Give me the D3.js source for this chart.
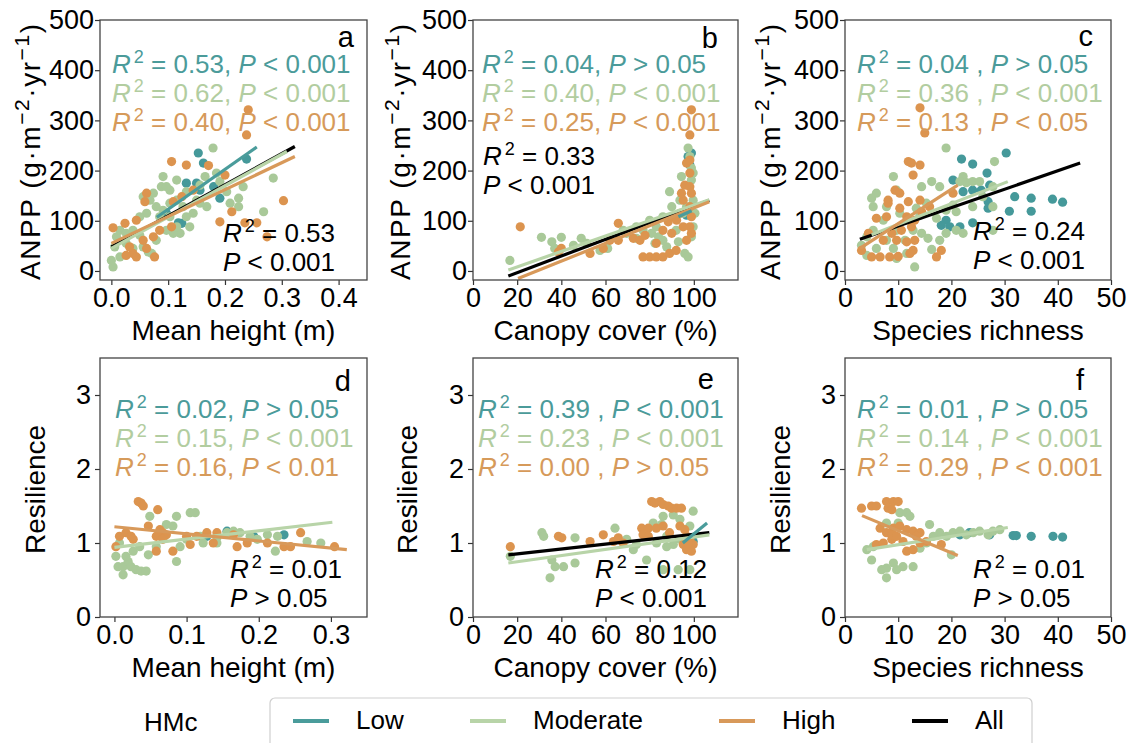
<!DOCTYPE html>
<html>
<head>
<meta charset="utf-8">
<script src="https://cdn.jsdelivr.net/npm/d3@7"></script>
<style>
  body { margin: 0; background: #fff; }
  svg text { font-family: "Liberation Sans", Arial, sans-serif; white-space: pre; }
</style>
</head>
<body>
<svg id="chart" width="1129" height="743"></svg>
<script>
// ---------- tick labels ----------
const anppTicks = [0, 100, 200, 300, 400, 500];
const resilienceTicks = [0, 1, 2, 3];
const heightTicksTop = [0, 0.1, 0.2, 0.3, 0.4];
const heightTicksBottom = [0, 0.1, 0.2, 0.3];
const coverTicks = [0, 20, 40, 60, 80, 100];
const richnessTicks = [0, 10, 20, 30, 40, 50];

// ---------- HMc groups ----------
const groups = ["Low", "Moderate", "High", "All"];

// ---------- (a) mean height vs ANPP ----------
const heightAnppLow = [[0.153,235],[0.162,215],[0.132,175],[0.150,175],[0.191,145],[0.238,223],[0.124,95],[0.118,96],[0.156,161],[0.180,168],[0.097,115]];
const heightAnppModerate = [[0.003,8],[0.0,21],[0.006,48],[0.009,68],[0.015,81],[0.026,75],[0.038,81],[0.050,71],[0.056,48],[0.065,38],[0.071,35],[0.079,61],[0.085,108],[0.091,121],[0.103,135],[0.091,188],[0.088,168],[0.103,161],[0.115,141],[0.126,128],[0.132,108],[0.121,75],[0.109,75],[0.097,81],[0.150,141],[0.156,171],[0.165,188],[0.179,245],[0.185,195],[0.191,178],[0.203,158],[0.209,135],[0.224,145],[0.224,128],[0.232,168],[0.268,118],[0.285,185],[0.074,155],[0.068,141],[0.056,148],[0.062,115],[0.050,108],[0.079,128],[0.097,168],[0.132,158],[0.144,115],[0.168,128],[0.026,55],[0.038,45],[0.015,28],[0.103,108],[0.115,88],[0.138,88],[0.156,135],[0.115,181]];
const heightAnppHigh = [[0.241,321],[0.238,271],[0.106,218],[0.132,211],[0.171,210],[0.200,191],[0.303,140],[0.256,96],[0.235,96],[0.274,68],[0.212,118],[0.191,98],[0.062,155],[0.059,138],[0.044,101],[0.024,95],[0.003,86],[0.109,138],[0.124,148],[0.144,161],[0.085,81],[0.074,68],[0.056,61],[0.062,45],[0.038,35],[0.026,31],[0.044,28],[0.076,28],[0.032,48],[0.106,88]];
const heightAnppFits = { Low: [[0.080,107],[0.256,247]], Moderate: [[0.0,45],[0.309,238]], High: [[0.0,55],[0.323,228]], All: [[0.0,48],[0.323,248]] };
const heightAnppStats = { Low: ["0.53","<","0.001"], Moderate: ["0.62","<","0.001"], High: ["0.40","<","0.001"], All: ["0.53","<","0.001"] };

// ---------- (b) canopy cover vs ANPP ----------
const coverAnppLow = [[98.9,235],[97.4,228],[96.7,111],[98.2,211]];
const coverAnppModerate = [[16.7,21],[31,67],[35.7,58],[40,67],[45.5,51],[37,45],[57.5,41],[61,45],[69.6,75],[74,65],[77,81],[80.9,75],[82.4,55],[84,68],[86,61],[87.7,48],[89,158],[92,81],[93,58],[94.4,188],[95,115],[95.9,35],[97.4,28],[97.4,245],[98.2,228],[98.9,205],[98.9,181],[99.7,195],[99.7,141],[100.5,115],[99.7,88],[98.9,68],[96.7,128],[93.7,141],[90,128],[86,108],[83,88],[80,101],[74,88],[68,81],[49,65],[51.5,55]];
const coverAnppHigh = [[21.4,88],[38.7,38],[53,35],[59,45],[65.8,95],[65.8,61],[72.6,65],[75.6,61],[77,28],[80,28],[83,28],[86,28],[89,35],[92,41],[77.9,71],[83,55],[86,81],[90,75],[90.7,108],[93.7,115],[95.2,141],[94.4,155],[95.9,171],[96.7,215],[98.2,221],[98.2,195],[98.2,168],[98.9,155],[98.2,128],[98.9,108],[98.2,88],[98.9,75],[96.7,61],[98.9,321],[98.2,271],[95.2,88],[92.2,101],[88.4,98],[40,45],[62,61]];
const coverAnppFits = { Low: [[93,108],[99,120]], Moderate: [[16,2],[107,142]], High: [[20.4,-15],[107,138]], All: [[16,-10],[107,141]] };
const coverAnppStats = { Low: ["0.04",">","0.05"], Moderate: ["0.40","<","0.001"], High: ["0.25","<","0.001"], All: ["0.33","<","0.001"] };

// ---------- (c) species richness vs ANPP ----------
const richnessAnppLow = [[30.3,235],[21.9,223],[24,213],[26.7,195],[20.3,181],[27.2,171],[25.6,161],[24,161],[22.2,158],[26.9,138],[26.9,125],[31.9,148],[35,145],[39,143],[40.9,137],[35,119],[30.9,119],[24,96],[19,101],[19.7,88],[21.6,88],[18.1,91]];
const richnessAnppModerate = [[19,245],[22.2,188],[21.6,178],[22.8,176],[24,178],[25.3,178],[28.1,218],[16.3,178],[17.8,168],[14.4,168],[20.3,131],[19,121],[20.9,118],[24,128],[27.8,128],[27.8,168],[25.9,148],[20.9,81],[22.2,75],[27.8,81],[15.3,135],[13.4,125],[11.9,105],[12.8,81],[14.4,75],[15.6,65],[17.8,61],[16.3,43],[13.1,8],[9.1,188],[9.7,161],[5.9,155],[5,145],[5.3,128],[7.8,128],[10.3,115],[7.2,101],[5.3,81],[4.1,68],[3.1,51],[4.1,31],[5.9,45],[7.8,61],[9.1,45],[9.7,25],[11.6,35],[11.3,61],[9.7,81],[14.1,111],[17.2,105],[19,75]];
const richnessAnppHigh = [[14.1,325],[15,275],[11.9,218],[12.5,215],[14.1,211],[12.8,191],[8.1,141],[8.1,135],[9.4,161],[10.3,155],[11.9,138],[14.1,141],[15.9,128],[10.3,125],[5.9,105],[7.8,108],[11.6,108],[13.1,101],[12.5,88],[10.6,81],[8.8,75],[7.2,61],[9.7,61],[11.6,58],[13.1,61],[12.8,41],[12.2,35],[3.1,41],[5,28],[6.6,28],[8.4,28],[10,29],[17.2,28],[18.1,41],[4.4,75],[14.4,118],[20.3,155]];
const richnessAnppFits = { Moderate: [[5,72],[30.6,178]], High: [[2.8,45],[21.2,171]], All: [[2.8,63],[44.2,215]] };
const richnessAnppStats = { Low: ["0.04",">","0.05"], Moderate: ["0.36","<","0.001"], High: ["0.13","<","0.05"], All: ["0.24","<","0.001"] };

// ---------- (d) mean height vs resilience ----------
const heightResLow = [[0.193,1.09],[0.235,1.11],[0.156,1.16],[0.128,1.09],[0.165,1.14]];
const heightResModerate = [[0.012,0.57],[0.002,0.82],[0.005,0.68],[0.012,0.68],[0.019,0.75],[0.023,0.68],[0.030,0.64],[0.037,0.62],[0.044,0.62],[0.016,0.82],[0.026,0.89],[0.007,1.0],[0.035,0.95],[0.049,1.36],[0.086,1.36],[0.105,1.41],[0.112,1.41],[0.072,1.25],[0.081,1.23],[0.047,0.84],[0.086,0.75],[0.100,1.05],[0.119,1.09],[0.142,1.07],[0.156,1.14],[0.165,1.16],[0.174,1.14],[0.188,1.09],[0.212,1.11],[0.226,1.09],[0.223,0.89],[0.267,1.02],[0.286,1.0],[0.123,1.0],[0.091,0.95],[0.058,0.95],[0.142,1.0],[0.198,1.05]];
const heightResHigh = [[0.033,1.56],[0.037,1.54],[0.040,1.5],[0.060,1.45],[0.047,1.23],[0.063,1.18],[0.067,1.14],[0.072,1.11],[0.058,1.09],[0.067,1.05],[0.007,1.09],[0.016,1.14],[0.023,1.09],[0.026,1.05],[0.002,0.95],[0.058,0.89],[0.081,0.89],[0.105,0.98],[0.114,1.09],[0.128,1.14],[0.142,1.14],[0.165,1.11],[0.170,0.95],[0.184,1.0],[0.212,1.0],[0.235,0.95],[0.244,0.95],[0.258,1.14],[0.305,0.95],[0.137,1.0],[0.100,1.09]];
const heightResFits = { Moderate: [[0.0,0.94],[0.302,1.28]], High: [[0.0,1.22],[0.322,0.91]] };
const heightResStats = { Low: ["0.02",">","0.05"], Moderate: ["0.15","<","0.001"], High: ["0.16","<","0.01"], All: ["0.01",">","0.05"] };

// ---------- (e) canopy cover vs resilience ----------
const coverResLow = [[98.2,0.95],[97.4,1.07],[99.7,1.02]];
const coverResModerate = [[16.9,0.82],[31.2,1.14],[32,1.09],[35.7,0.77],[34.9,0.53],[37.2,0.68],[41,0.68],[46.2,0.73],[46.2,1.07],[64.3,1.2],[69.6,1.05],[72.6,0.91],[74,0.98],[78.6,0.77],[81.6,1.27],[85.4,1.25],[86.1,1.36],[90.7,1.38],[93.7,1.32],[87.7,1.09],[90.7,0.98],[86.1,0.64],[92.9,0.64],[99.7,1.43],[98.2,1.23],[98.2,0.64],[93.7,1.05],[83.1,1.0],[87.7,0.95]];
const coverResHigh = [[16.9,0.95],[38.7,1.09],[40.2,1.07],[53,1.02],[59,1.11],[63.6,1.02],[65.8,1.07],[68,1.0],[76.4,1.2],[77,1.11],[79.4,1.2],[80.9,1.56],[82.4,1.54],[84.6,1.56],[86.1,1.52],[88.4,1.5],[89.9,1.47],[92.2,1.47],[94.4,1.47],[83,1.2],[86.1,1.23],[89,1.14],[93.7,1.23],[95.9,1.18],[96.7,1.09],[98.2,1.05],[95.2,0.98],[96.7,0.91],[98.9,0.89],[99.7,0.98],[97.4,1.0],[79.4,1.09]];
const coverResFits = { Low: [[95,1.0],[106,1.27]], Moderate: [[16,0.73],[107,1.11]], All: [[16,0.84],[107,1.14]] };
const coverResStats = { Low: ["0.39","<","0.001"], Moderate: ["0.23","<","0.001"], High: ["0.00",">","0.05"], All: ["0.12","<","0.001"] };

// ---------- (f) species richness vs resilience ----------
const richnessResLow = [[31.6,1.1],[32.2,1.1],[35,1.09],[39.1,1.09],[40.9,1.08],[23.4,1.14],[27.2,1.11],[21.6,1.11]];
const richnessResModerate = [[7.8,0.53],[5,0.77],[4.1,0.91],[5.3,0.95],[6.9,0.64],[7.8,0.66],[9.1,0.73],[9.7,0.64],[10.9,0.68],[12.8,0.68],[10.3,1.41],[11.6,1.41],[12.2,1.36],[7.8,1.27],[10,1.27],[15.9,1.25],[17.8,1.14],[19.1,1.09],[20,0.84],[20.3,1.14],[21.6,1.16],[22.8,1.11],[24.1,1.14],[25.3,1.16],[26.9,1.11],[27.8,1.16],[29.1,1.18],[15.3,1.0],[16.6,1.09],[14.1,0.93]];
const richnessResHigh = [[3.1,1.47],[5,1.5],[5.9,1.5],[7.8,1.56],[9.1,1.56],[10,1.56],[8.1,1.47],[8.8,1.45],[6.6,1.2],[7.8,1.14],[9.1,1.2],[10.3,1.23],[11.6,1.18],[12.8,1.16],[5.9,0.98],[7.2,1.0],[8.8,1.05],[10.9,1.02],[11.6,0.89],[12.8,0.91],[14.1,1.0],[15.3,1.02],[18.1,0.98],[14.1,1.14],[13.4,1.09],[8.8,1.11],[9.7,1.09]];
const richnessResFits = { Moderate: [[4.1,0.91],[30.6,1.21]], High: [[3.2,1.37],[21.2,0.83]] };
const richnessResStats = { Low: ["0.01",">","0.05"], Moderate: ["0.14","<","0.001"], High: ["0.29","<","0.001"], All: ["0.01",">","0.05"] };

// ---------- styling ----------
const textColor = { Low: "#4b9b9a", Moderate: "#b2cda0", High: "#d69a5a", All: "#000" };
const dotColor = { Low: "#45999a", Moderate: "#a9c999", High: "#dc944f" };
const lineColor = { Low: "#4a9c9b", Moderate: "#b8d4a8", High: "#d8995a", All: "#000" };

const svg = d3.select("#chart");

const topY = [20, 280], botY = [358, 617];
const colX = [[100, 367], [473, 738], [845, 1111]];

const panels = [
  { letter: "a", col: 0, rowY: topY, xDomain: [-0.02, 0.45], yDomain: [-18, 500], xTicks: heightTicksTop, yTicks: anppTicks, xFmt: d3.format(".1f"),
    pts: { Low: heightAnppLow, Moderate: heightAnppModerate, High: heightAnppHigh }, fits: heightAnppFits, stats: heightAnppStats, sep: ", ",
    xLabel: "Mean height (m)", yLabel: "anpp", statX: 112, statY: 73, allX: 223, allY: 242, letterX: 354, letterY: 47 },
  { letter: "b", col: 1, rowY: topY, xDomain: [0, 120], yDomain: [-18, 500], xTicks: coverTicks, yTicks: anppTicks, xFmt: d3.format("d"),
    pts: { Low: coverAnppLow, Moderate: coverAnppModerate, High: coverAnppHigh }, fits: coverAnppFits, stats: coverAnppStats, sep: ", ",
    xLabel: "Canopy cover (%)", yLabel: "anpp", statX: 482, statY: 73, allX: 483, allY: 165, letterX: 718, letterY: 48 },
  { letter: "c", col: 2, rowY: topY, xDomain: [0, 50], yDomain: [-18, 500], xTicks: richnessTicks, yTicks: anppTicks, xFmt: d3.format("d"),
    pts: { Low: richnessAnppLow, Moderate: richnessAnppModerate, High: richnessAnppHigh }, fits: richnessAnppFits, stats: richnessAnppStats, sep: " , ",
    xLabel: "Species richness", yLabel: "anpp", statX: 857, statY: 73, allX: 973, allY: 240, letterX: 1093, letterY: 46 },
  { letter: "d", col: 0, rowY: botY, xDomain: [-0.02, 0.35], yDomain: [0, 3.5], xTicks: heightTicksBottom, yTicks: resilienceTicks, xFmt: d3.format(".1f"),
    pts: { Low: heightResLow, Moderate: heightResModerate, High: heightResHigh }, fits: heightResFits, stats: heightResStats, sep: ", ",
    xLabel: "Mean height (m)", yLabel: "Resilience", statX: 115, statY: 418, allX: 230, allY: 578, letterX: 351, letterY: 391 },
  { letter: "e", col: 1, rowY: botY, xDomain: [0, 120], yDomain: [0, 3.5], xTicks: coverTicks, yTicks: resilienceTicks, xFmt: d3.format("d"),
    pts: { Low: coverResLow, Moderate: coverResModerate, High: coverResHigh }, fits: coverResFits, stats: coverResStats, sep: " , ",
    xLabel: "Canopy cover (%)", yLabel: "Resilience", statX: 478, statY: 418, allX: 595, allY: 578, letterX: 714, letterY: 389 },
  { letter: "f", col: 2, rowY: botY, xDomain: [0, 50], yDomain: [0, 3.5], xTicks: richnessTicks, yTicks: resilienceTicks, xFmt: d3.format("d"),
    pts: { Low: richnessResLow, Moderate: richnessResModerate, High: richnessResHigh }, fits: richnessResFits, stats: richnessResStats, sep: " , ",
    xLabel: "Species richness", yLabel: "Resilience", statX: 857, statY: 418, allX: 973, allY: 578, letterX: 1084, letterY: 390 }
];

const yLabelX = { 0: { anpp: 40, Resilience: 45 }, 1: { anpp: 410, Resilience: 417 }, 2: { anpp: 780, Resilience: 790 } };

// R² / P annotation: italic R, raised 2, value, italic P, operator and threshold
function statText(g, x, y, color, s, sep) {
  const t = g.append("text").attr("x", x).attr("y", y).attr("fill", color).attr("font-size", 26);
  t.append("tspan").attr("font-style", "italic").text("R");
  t.append("tspan").attr("dx", 3).attr("dy", -10).attr("font-size", 18).text("2");
  t.append("tspan").attr("dy", 10).text(" = " + s[0] + sep);
  t.append("tspan").attr("font-style", "italic").text("P");
  t.append("tspan").text(" " + s[1] + " " + s[2]);
}

panels.forEach(p => {
  const [x0, x1] = colX[p.col];
  const [y0, y1] = p.rowY;
  const x = d3.scaleLinear().domain(p.xDomain).range([x0, x1]);
  const y = d3.scaleLinear().domain(p.yDomain).range([y1, y0]);
  const g = svg.append("g");

  // clip so marks stay inside the frame
  const clipId = "clip-" + p.letter;
  g.append("clipPath").attr("id", clipId).append("rect")
    .attr("x", x0).attr("y", y0).attr("width", x1 - x0).attr("height", y1 - y0);
  const plot = g.append("g").attr("clip-path", `url(#${clipId})`);

  // scatter: Low underneath, then Moderate, then High
  ["Low", "Moderate", "High"].forEach(k => {
    plot.append("g").selectAll("circle").data(p.pts[k]).join("circle")
      .attr("cx", d => x(d[0])).attr("cy", d => y(d[1])).attr("r", 4.6)
      .attr("fill", dotColor[k]);
  });

  // fitted lines: overall fit first, group fits on top
  const line = d3.line().x(d => x(d[0])).y(d => y(d[1]));
  ["All", "Moderate", "High", "Low"].forEach(k => {
    if (!p.fits[k]) return;
    plot.append("path").attr("d", line(p.fits[k])).attr("fill", "none")
      .attr("stroke", lineColor[k]).attr("stroke-width", 3.2);
  });

  // axes
  const isTop = p.rowY === topY;
  const xa = g.append("g").attr("transform", `translate(0,${y1})`)
    .call(d3.axisBottom(x).tickValues(p.xTicks).tickFormat(p.xFmt).tickSize(5).tickPadding(3));
  const ya = g.append("g").attr("transform", `translate(${x0},0)`)
    .call(d3.axisLeft(y).tickValues(p.yTicks).tickFormat(d3.format("d")).tickSize(5).tickPadding(isTop ? 1 : 4));
  [xa, ya].forEach(a => {
    a.select(".domain").remove();
    a.selectAll(".tick line").attr("stroke", "#333").attr("stroke-width", 1.2);
    a.selectAll(".tick text").attr("font-size", 27).attr("fill", "#000")
      .attr("font-family", '"Liberation Sans", Arial, sans-serif');
  });

  // frame
  g.append("rect").attr("x", x0).attr("y", y0).attr("width", x1 - x0).attr("height", y1 - y0)
    .attr("fill", "none").attr("stroke", "#444").attr("stroke-width", 1.3);

  // axis titles
  g.append("text").attr("x", (x0 + x1) / 2).attr("y", y1 + 60).attr("text-anchor", "middle")
    .attr("font-size", 28).text(p.xLabel);
  const ly = (y0 + y1) / 2 + 2;
  const lx = yLabelX[p.col][p.yLabel];
  const yt = g.append("text").attr("text-anchor", "middle").attr("font-size", 28)
    .attr("transform", `translate(${lx},${ly}) rotate(-90)`);
  if (p.yLabel === "anpp") {
    yt.attr("textLength", 256).attr("lengthAdjust", "spacing");
    yt.append("tspan").text("ANPP (g·m");
    yt.append("tspan").attr("dy", -11).attr("font-size", 21).text("−2");
    yt.append("tspan").attr("dy", 11).text("·yr");
    yt.append("tspan").attr("dy", -11).attr("font-size", 21).text("−1");
    yt.append("tspan").attr("dy", 11).text(")");
  } else {
    yt.text(p.yLabel);
  }

  // panel letter
  g.append("text").attr("x", p.letterX).attr("y", p.letterY).attr("text-anchor", "end")
    .attr("font-size", 29).text(p.letter);

  // group statistics
  ["Low", "Moderate", "High"].forEach((k, i) => {
    statText(g, p.statX, p.statY + i * 29, textColor[k], p.stats[k], p.sep);
  });

  // overall statistics on two lines
  const all = p.stats.All;
  const ta = g.append("text").attr("x", p.allX).attr("y", p.allY).attr("font-size", 26).attr("fill", "#000");
  ta.append("tspan").attr("font-style", "italic").text("R");
  ta.append("tspan").attr("dx", 3).attr("dy", -10).attr("font-size", 18).text("2");
  ta.append("tspan").attr("dy", 10).text(" = " + all[0]);
  const tp = g.append("text").attr("x", p.allX).attr("y", p.allY + 29).attr("font-size", 26).attr("fill", "#000");
  tp.append("tspan").attr("font-style", "italic").text("P");
  tp.append("tspan").text(" " + all[1] + " " + all[2]);
});

// ---------- legend ----------
svg.append("text").attr("x", 144).attr("y", 731).attr("font-size", 26).text("HMc");
svg.append("rect").attr("x", 270).attr("y", 698).attr("width", 762).attr("height", 60).attr("rx", 5)
  .attr("fill", "#fff").attr("stroke", "#cfcfcf").attr("stroke-width", 1.2);
const legendX = { Low: 293, Moderate: 470, High: 719, All: 912 };
groups.forEach(k => {
  const lx = legendX[k];
  svg.append("line").attr("x1", lx).attr("x2", lx + 36).attr("y1", 721).attr("y2", 721)
    .attr("stroke", lineColor[k]).attr("stroke-width", 4);
  svg.append("text").attr("x", lx + 63).attr("y", 729).attr("font-size", 26).text(k);
});
</script>
</body>
</html>
